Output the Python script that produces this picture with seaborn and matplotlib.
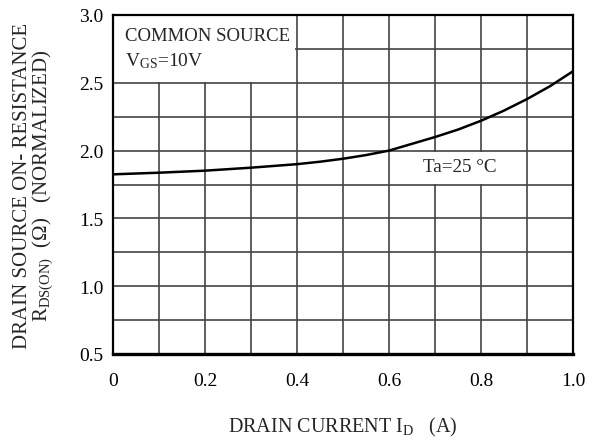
import matplotlib
matplotlib.use("Agg")
import matplotlib.pyplot as plt
import seaborn as sns
import pandas as pd
from matplotlib.patches import Rectangle

# Data
drain_current = [0.0, 0.1, 0.2, 0.3, 0.4, 0.45, 0.5, 0.55, 0.6, 0.65, 0.7, 0.75, 0.8, 0.85, 0.9, 0.95, 1.0]
rds_on = [1.825, 1.837, 1.852, 1.874, 1.90, 1.918, 1.94, 1.967, 2.0, 2.05, 2.10, 2.155, 2.22, 2.295, 2.38, 2.475, 2.585]
x_ticks = [0, 0.2, 0.4, 0.6, 0.8, 1.0]
x_tick_labels = ["0", "0.2", "0.4", "0.6", "0.8", "1.0"]
y_ticks = [0.5, 1.0, 1.5, 2.0, 2.5, 3.0]
y_tick_labels = ["0.5", "1.0", "1.5", "2.0", "2.5", "3.0"]

sns.set_theme(style="white")
plt.rcParams["font.family"] = ["Liberation Serif", "DejaVu Serif"]
plt.rcParams["mathtext.fontset"] = "custom"
plt.rcParams["mathtext.rm"] = "Liberation Serif"
plt.rcParams["mathtext.it"] = "Liberation Serif:italic"

df = pd.DataFrame({"I": drain_current, "R": rds_on})

fig = plt.figure(figsize=(5.9, 4.39), dpi=100)
ax = fig.add_axes([113 / 590, 1 - 355 / 439, 460 / 590, 339 / 439])

sns.lineplot(data=df, x="I", y="R", ax=ax, color="black", linewidth=1.8, zorder=3)

ax.set_xlim(0, 1.0)
ax.set_ylim(0.5, 3.0)

# grid
for i in range(1, 10):
    ax.axvline(i / 10, color="#444444", linewidth=1.2, zorder=1)
for j in range(1, 10):
    ax.axhline(0.5 + j * 0.25, color="#444444", linewidth=1.2, zorder=1)

# white boxes behind the annotations
ax.add_patch(Rectangle((0.0, 2.505), 0.396, 0.5, facecolor="white", edgecolor="none", zorder=2))
ax.add_patch(Rectangle((0.605, 1.757), 0.29, 0.236, facecolor="white", edgecolor="none", zorder=2))

ax.text(0.026, 2.85, "COMMON SOURCE", fontsize=13.5, ha="left", va="center", zorder=4)
ax.text(0.026, 2.665, r"V$_{\mathrm{GS}}$=10V", fontsize=14, ha="left", va="center", zorder=4)
ax.text(0.755, 1.885, "Ta=25 °C", fontsize=13.8, ha="center", va="center", zorder=4)

ax.set_xticks(x_ticks)
ax.set_xticklabels(x_tick_labels, fontsize=14)
ax.set_yticks(y_ticks)
ax.set_yticklabels(y_tick_labels, fontsize=14)
ax.tick_params(axis="x", length=0, pad=13, colors="black")
ax.tick_params(axis="y", length=0, pad=7, colors="black")

ax.set_xlabel(r"DRAIN CURRENT I$_{\mathrm{D}}$   (A)", fontsize=14.5, labelpad=19)
ax.set_ylabel("DRAIN SOURCE ON- RESISTANCE\n" + r"R$_{\mathrm{DS(ON)}}$  ($\Omega$)   (NORMALIZED)",
              fontsize=15, labelpad=17, linespacing=0.92)

for side in ["left", "top", "right"]:
    ax.spines[side].set_visible(True)
    ax.spines[side].set_color("black")
    ax.spines[side].set_linewidth(1.6)
ax.spines["bottom"].set_color("black")
ax.spines["bottom"].set_linewidth(2.4)
for s in ax.spines.values():
    s.set_zorder(5)

fig.savefig("out.png", dpi=100)
